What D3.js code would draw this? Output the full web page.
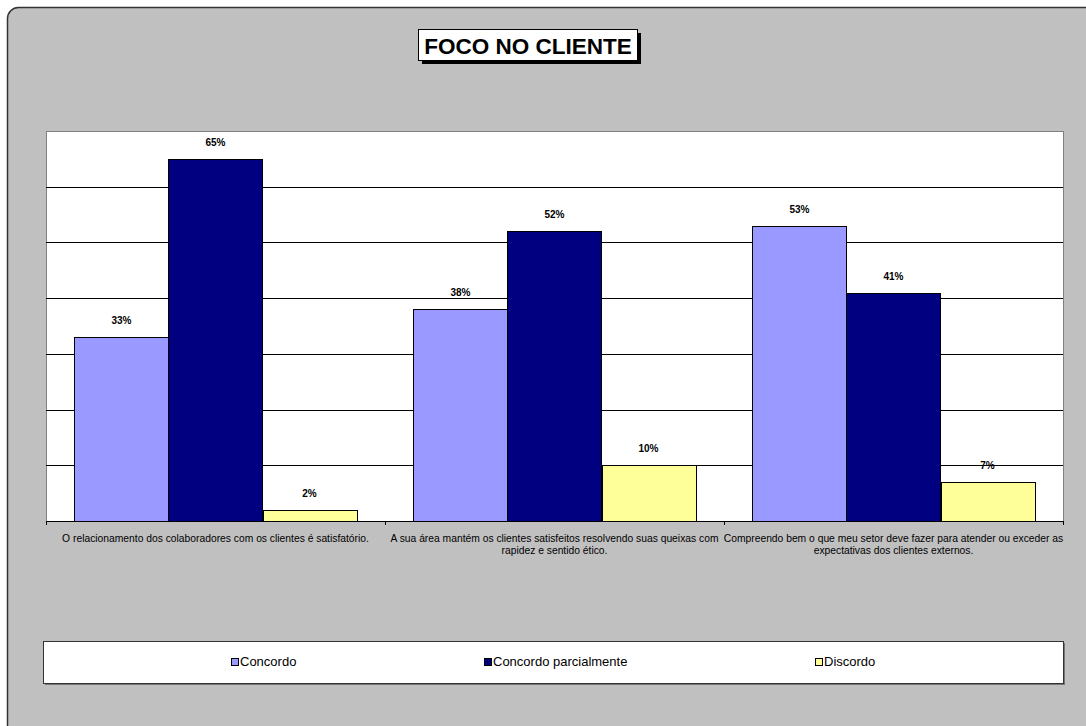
<!DOCTYPE html>
<html>
<head>
<meta charset="utf-8">
<script src="https://cdn.jsdelivr.net/npm/d3@7"></script>
<style>
  html, body { margin: 0; padding: 0; background: #ffffff; }
  svg { display: block; font-family: Arial, "Liberation Sans", sans-serif; }
</style>
</head>
<body>
<svg id="chart" width="1086" height="726"></svg>
<script>
// Survey results: "Foco no cliente"
const title = "FOCO NO CLIENTE";
const categories = [
  "O relacionamento dos colaboradores com os clientes é satisfatório.",
  "A sua área mantém os clientes satisfeitos resolvendo suas queixas com rapidez e sentido ético.",
  "Compreendo bem o que meu setor deve fazer para atender ou exceder as expectativas dos clientes externos."
];
const seriesNames = ["Concordo", "Concordo parcialmente", "Discordo"];
const concordo = [33, 38, 53];
const concordoParcialmente = [65, 52, 41];
const discordo = [2, 10, 7];
const yTicks = [0, 10, 20, 30, 40, 50, 60, 70];
const colors = ["#9999FF", "#000080", "#FFFF99"];

const seriesValues = [concordo, concordoParcialmente, discordo];

const svg = d3.select("#chart");

// Chart frame (grey panel with rounded corner)
svg.append("rect")
  .attr("x", 7.5).attr("y", 7.5)
  .attr("width", 1100).attr("height", 740)
  .attr("rx", 11).attr("ry", 11)
  .attr("fill", "#C0C0C0")
  .attr("stroke", "#333").attr("stroke-width", 1.5);

// Plot area
const plot = { left: 46, right: 1063, top: 131, bottom: 521 };

const x0 = d3.scaleBand()
  .domain(d3.range(categories.length))
  .range([plot.left, plot.right])
  .paddingInner(0).paddingOuter(0);

const x1 = d3.scaleBand()
  .domain(d3.range(seriesNames.length))
  .range([0, x0.bandwidth()])
  .paddingInner(0).paddingOuter(0.303);

const y = d3.scaleLinear()
  .domain([0, d3.max(yTicks)])
  .range([plot.bottom, plot.top]);

svg.append("rect")
  .attr("x", plot.left + 0.5).attr("y", plot.top + 0.5)
  .attr("width", plot.right - plot.left).attr("height", plot.bottom - plot.top)
  .attr("fill", "#ffffff")
  .attr("stroke", "#808080").attr("stroke-width", 1);

// Horizontal gridlines
svg.append("g")
  .selectAll("line")
  .data(yTicks.filter(t => t > 0 && t < d3.max(yTicks)))
  .join("line")
  .attr("x1", plot.left).attr("x2", plot.right)
  .attr("y1", d => Math.round(y(d)) + 0.5)
  .attr("y2", d => Math.round(y(d)) + 0.5)
  .attr("stroke", "#000").attr("stroke-width", 1);

// Bars
const groups = svg.append("g")
  .selectAll("g")
  .data(categories.map((c, i) => ({ i, values: seriesValues.map(s => s[i]) })))
  .join("g")
  .attr("transform", d => `translate(${x0(d.i)},0)`);

groups.selectAll("rect")
  .data(d => d.values.map((v, s) => ({ v, s })))
  .join("rect")
  .attr("x", d => Math.round(x1(d.s)) + 0.5)
  .attr("y", d => Math.round(y(d.v)) + 0.5)
  .attr("width", x1.bandwidth())
  .attr("height", d => plot.bottom - Math.round(y(d.v)))
  .attr("fill", d => colors[d.s])
  .attr("stroke", "#000").attr("stroke-width", 1);

// Value labels
groups.selectAll("text")
  .data(d => d.values.map((v, s) => ({ v, s })))
  .join("text")
  .attr("x", d => x1(d.s) + x1.bandwidth() / 2)
  .attr("y", d => y(d.v) - 13)
  .attr("text-anchor", "middle")
  .attr("font-size", 10)
  .attr("font-weight", "bold")
  .attr("fill", "#000")
  .text(d => d.v + "%");

// Category axis
const xAxis = svg.append("g");
xAxis.append("line")
  .attr("x1", plot.left).attr("x2", plot.right + 1)
  .attr("y1", plot.bottom + 0.5).attr("y2", plot.bottom + 0.5)
  .attr("stroke", "#000");
xAxis.selectAll("line.tick")
  .data(d3.range(categories.length + 1))
  .join("line")
  .attr("class", "tick")
  .attr("x1", d => (d < categories.length ? x0(d) : plot.right) + 0.5)
  .attr("x2", d => (d < categories.length ? x0(d) : plot.right) + 0.5)
  .attr("y1", plot.bottom).attr("y2", plot.bottom + 4)
  .attr("stroke", "#000");

// Category labels, wrapped to the band width
const catFont = 10.3;
categories.forEach((label, i) => {
  const cx = x0(i) + x0.bandwidth() / 2;
  const t = xAxis.append("text")
    .attr("x", cx)
    .attr("y", 542)
    .attr("text-anchor", "middle")
    .attr("font-size", catFont)
    .attr("fill", "#000");
  const words = label.split(" ");
  let line = [];
  let tspan = t.append("tspan").attr("x", cx).attr("dy", 0);
  words.forEach(w => {
    line.push(w);
    tspan.text(line.join(" "));
    if (tspan.node().getComputedTextLength() > x0.bandwidth() + 2 && line.length > 1) {
      line.pop();
      tspan.text(line.join(" "));
      line = [w];
      tspan = t.append("tspan")
        .attr("x", cx)
        .attr("dy", 11.5)
        .text(w);
    }
  });
});

// Title box with drop shadow
const titleBox = { x: 418, y: 29, w: 219, h: 31 };
svg.append("rect")
  .attr("x", titleBox.x + 4).attr("y", titleBox.y + 4)
  .attr("width", titleBox.w).attr("height", titleBox.h)
  .attr("fill", "#000");
svg.append("rect")
  .attr("x", titleBox.x + 0.5).attr("y", titleBox.y + 0.5)
  .attr("width", titleBox.w).attr("height", titleBox.h)
  .attr("fill", "#fff").attr("stroke", "#000");
svg.append("text")
  .attr("x", titleBox.x + titleBox.w / 2 + 0.5)
  .attr("y", 54)
  .attr("text-anchor", "middle")
  .attr("font-size", 22.5)
  .attr("font-weight", "bold")
  .attr("fill", "#000")
  .text(title);

// Legend
const legendBox = { x: 43, y: 641, w: 1020, h: 42 };
svg.append("rect")
  .attr("x", legendBox.x + 2).attr("y", legendBox.y + 2)
  .attr("width", legendBox.w).attr("height", legendBox.h)
  .attr("fill", "#777");
svg.append("rect")
  .attr("x", legendBox.x + 0.5).attr("y", legendBox.y + 0.5)
  .attr("width", legendBox.w).attr("height", legendBox.h)
  .attr("fill", "#fff").attr("stroke", "#333");

const legend = svg.append("g");
const items = legend.selectAll("g")
  .data(seriesNames.map((name, i) => ({ name, i })))
  .join("g");
items.append("rect")
  .attr("x", 0.5).attr("y", 658.5)
  .attr("width", 7).attr("height", 7)
  .attr("fill", d => colors[d.i])
  .attr("stroke", "#000").attr("stroke-width", 1);
items.append("text")
  .attr("x", 9).attr("y", 666)
  .attr("font-size", 13)
  .attr("fill", "#000")
  .text(d => d.name);

// Spread legend entries evenly across the box
const widths = items.nodes().map(n => n.getBBox().width);
const gap = (legendBox.w - d3.sum(widths)) / (widths.length + 1);
let cursor = legendBox.x + gap;
items.each(function (d, i) {
  d3.select(this).attr("transform", `translate(${Math.round(cursor)},0)`);
  cursor += widths[i] + gap;
});
</script>
</body>
</html>
